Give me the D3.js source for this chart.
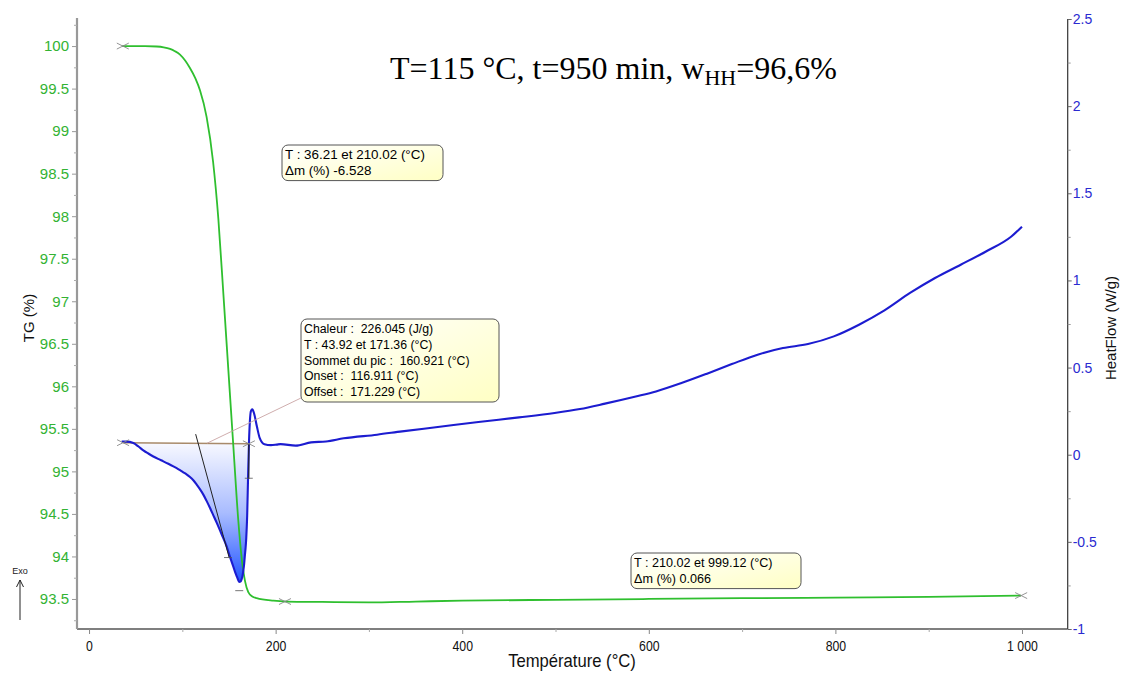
<!DOCTYPE html>
<html><head><meta charset="utf-8">
<script src="https://cdn.jsdelivr.net/npm/d3@7"></script>
<style>
html,body{margin:0;padding:0;background:#fff;}
svg{display:block;}
</style></head>
<body>
<svg id="chart" width="1123" height="673"></svg>
<script>
// ---------- DATA ----------
const tgTemp = [35.6,60,72.5,80,86.8,92,97.5,103,108,114,119,126,133,138.6,144,149.3,154.6,160,163.6,167.2,170.7,175,179.7,197.5,212,250,300,350,400,500,600,700,800,900,999];
const tgValues = [100,100,99.995,99.985,99.966,99.94,99.90,99.83,99.745,99.62,99.478,99.168,98.637,97.97,97.085,96.196,95.31,94.42,93.98,93.71,93.58,93.53,93.51,93.48,93.47,93.465,93.46,93.47,93.48,93.49,93.50,93.51,93.515,93.525,93.54];

const hfTemp = [35,40,47.5,53,58.2,63.5,68.9,74,79.6,85,90.4,96,101,104.5,108.2,112,115.4,119,122.5,126,129.7,133,136.8,142,147.5,151,154.5,157,158.5,160,161,162.3,163.5,164.5,165.5,166.3,167,167.8,168.5,169.5,170.5,171.5,172.5,173.5,175,177,180,183,188,195,201,205.3,221.5,238,254,273,308.7,335.5,373.8,417.4,460.9,499,526.2,553,586,607.7,635,662.4,689,716.6,743.8,770.6,798.3,825.3,852.6,880,906.8,934.3,961.4,988.6,1000];
const hfValues = [0.075,0.075,0.067,0.047,0.025,0.007,-0.010,-0.024,-0.038,-0.052,-0.067,-0.084,-0.101,-0.113,-0.128,-0.148,-0.172,-0.199,-0.229,-0.265,-0.306,-0.345,-0.39,-0.455,-0.526,-0.585,-0.64,-0.68,-0.70,-0.72,-0.73,-0.728,-0.715,-0.695,-0.66,-0.625,-0.58,-0.535,-0.48,-0.35,-0.12,0.08,0.2,0.25,0.26,0.235,0.16,0.095,0.06,0.055,0.058,0.061,0.052,0.071,0.076,0.094,0.115,0.134,0.159,0.188,0.214,0.239,0.262,0.293,0.334,0.363,0.411,0.465,0.52,0.574,0.612,0.635,0.679,0.746,0.828,0.928,1.014,1.09,1.166,1.252,1.308];

// peak integration baseline
const baselineTemp = [36.5, 171.36];
const baselineHF = [0.069, 0.063];
// onset tangent
const tangentTemp = [114.3, 150.3];
const tangentHF = [0.118, -0.592];
// mass-loss markers
const tgMarkTemp = [36.21, 210.02, 999.12];
const tgMarkVal = [100, 93.47, 93.54];

const xTickValues = [0,200,400,600,800,1000];
const xTickLabels = ["0","200","400","600","800","1 000"];
const xMinorTicks = [100,300,500,700,900];
const leftTickValues = [93.5,94,94.5,95,95.5,96,96.5,97,97.5,98,98.5,99,99.5,100];
const leftTickLabels = ["93.5","94","94.5","95","95.5","96","96.5","97","97.5","98","98.5","99","99.5","100"];
const leftMinorTicks = [93.25,93.75,94.25,94.75,95.25,95.75,96.25,96.75,97.25,97.75,98.25,98.75,99.25,99.75,100.25];
const rightTickValues = [-1,-0.5,0,0.5,1,1.5,2,2.5];
const rightTickLabels = ["-1","-0.5","0","0.5","1","1.5","2","2.5"];
const rightMinorTicks = [-0.75,-0.25,0.25,0.75,1.25,1.75,2.25];

const titleParts = ["T=115 °C, t=950 min, w", "HH", "=96,6%"];
const box1Lines = ["T : 36.21 et 210.02 (°C)", "Δm (%) -6.528"];
const box2Lines = ["Chaleur :  226.045 (J/g)", "T : 43.92 et 171.36 (°C)", "Sommet du pic :  160.921 (°C)", "Onset :  116.911 (°C)", "Offset :  171.229 (°C)"];
const box3Lines = ["T : 210.02 et 999.12 (°C)", "Δm (%) 0.066"];

// ---------- LAYOUT ----------
const L = 77, R = 1067.7, T = 18, B = 629;
const svg = d3.select("#chart");
const x = d3.scaleLinear().domain([-12.9, 1049]).range([L, R]);
const yL = d3.scaleLinear().domain([93.147, 100.33]).range([B, T]);
const yR = d3.scaleLinear().domain([-1, 2.5]).range([B, 19]);

const GREEN = "#2fbf2f", TICKGREEN = "#33b333", BLUE = "#1c1cd0", LBLUE = "#2a2ad0";

const defs = svg.append("defs");
const grad = defs.append("linearGradient").attr("id","peakGrad")
  .attr("gradientUnits","userSpaceOnUse").attr("x1",0).attr("x2",0)
  .attr("y1", yR(0.066)).attr("y2", yR(-0.73));
grad.append("stop").attr("offset","0").attr("stop-color","#f7f8ff");
grad.append("stop").attr("offset","0.5").attr("stop-color","#a9bcff");
grad.append("stop").attr("offset","1").attr("stop-color","#2456ff");
const bgrad = defs.append("linearGradient").attr("id","boxGrad")
  .attr("x1","0").attr("y1","0").attr("x2","1").attr("y2","1");
bgrad.append("stop").attr("offset","0").attr("stop-color","#ffffff");
bgrad.append("stop").attr("offset","1").attr("stop-color","#ffffc4");

// ---------- AXES ----------
const fontA = "Arial, 'Liberation Sans', sans-serif";

// bottom
const gx = svg.append("g").attr("transform",`translate(0,${B})`)
  .call(d3.axisBottom(x).tickValues(xTickValues).tickFormat((d,i)=>xTickLabels[i]).tickSize(5).tickSizeOuter(0).tickPadding(6));
gx.select(".domain").attr("stroke","#555").attr("stroke-width",1.5).attr("d",`M${L},0H${R}`);
gx.selectAll(".tick line").attr("stroke","#888");
gx.selectAll(".tick text").attr("fill","#111").style("font-family",fontA).style("font-size","15px")
  .attr("transform","scale(0.82,1)");
const gxm = svg.append("g").attr("transform",`translate(0,${B})`)
  .call(d3.axisBottom(x).tickValues(xMinorTicks).tickFormat("").tickSize(3).tickSizeOuter(0));
gxm.select(".domain").remove();
gxm.selectAll(".tick line").attr("stroke","#aaa");

// left
const gl = svg.append("g").attr("transform",`translate(${L},0)`)
  .call(d3.axisLeft(yL).tickValues(leftTickValues).tickFormat((d,i)=>leftTickLabels[i]).tickSize(5).tickSizeOuter(0).tickPadding(3));
gl.select(".domain").attr("stroke","#999").attr("stroke-width",2.2).attr("d",`M0,${T}V${B}`);
gl.selectAll(".tick line").attr("stroke","#999");
gl.selectAll(".tick text").attr("fill",TICKGREEN).style("font-family",fontA).style("font-size","15px");
const glm = svg.append("g").attr("transform",`translate(${L},0)`)
  .call(d3.axisLeft(yL).tickValues(leftMinorTicks).tickFormat("").tickSize(3).tickSizeOuter(0));
glm.select(".domain").remove();
glm.selectAll(".tick line").attr("stroke","#aaa");

// right
const gr = svg.append("g").attr("transform",`translate(${R},0)`)
  .call(d3.axisRight(yR).tickValues(rightTickValues).tickFormat((d,i)=>rightTickLabels[i]).tickSize(4).tickSizeOuter(0).tickPadding(1));
gr.select(".domain").attr("stroke","#333").attr("stroke-width",1.2).attr("d",`M0,19V${B}`);
gr.selectAll(".tick line").attr("stroke","#666");
gr.selectAll(".tick text").attr("fill",LBLUE).style("font-family",fontA).style("font-size","14px");
const grm = svg.append("g").attr("transform",`translate(${R},0)`)
  .call(d3.axisRight(yR).tickValues(rightMinorTicks).tickFormat("").tickSize(3).tickSizeOuter(0));
grm.select(".domain").remove();
grm.selectAll(".tick line").attr("stroke","#999");

// axis titles
svg.append("g").attr("transform",`translate(572,667)`)
  .append("text").attr("text-anchor","middle").attr("transform","scale(0.9,1)")
  .style("font-family",fontA).style("font-size","18.5px").attr("fill","#111").text("Température (°C)");
svg.append("text").attr("transform","translate(34,318) rotate(-90)").attr("text-anchor","middle")
  .style("font-family",fontA).style("font-size","15px").attr("fill","#111").text("TG (%)");
svg.append("text").attr("transform","translate(1116,328) rotate(-90)").attr("text-anchor","middle")
  .style("font-family",fontA).style("font-size","15px").attr("fill","#111").text("HeatFlow (W/g)");

// Exo arrow
svg.append("text").attr("x",20).attr("y",574).attr("text-anchor","middle")
  .style("font-family",fontA).style("font-size","9px").attr("fill","#222").text("Exo");
svg.append("path").attr("d","M20,620V580M16.5,587L20,580L23.5,587").attr("fill","none").attr("stroke","#222").attr("stroke-width",1);

// ---------- PEAK AREA ----------
const hfPts = hfTemp.map((t,i)=>[t,hfValues[i]]);
const blAt = t => baselineHF[0] + (baselineHF[1]-baselineHF[0])*(t-baselineTemp[0])/(baselineTemp[1]-baselineTemp[0]);
const peakPts = [[baselineTemp[0], baselineHF[0]]].concat(hfPts.filter(p=>p[0]>baselineTemp[0] && p[0]<baselineTemp[1]))
  .concat([[baselineTemp[1], baselineHF[1]]]);
svg.append("path").datum(peakPts)
  .attr("d", d3.area().x(d=>x(d[0])).y0(d=>yR(Math.max(blAt(d[0]), d[1]))).y1(d=>yR(Math.min(d[1], blAt(d[0])))).curve(d3.curveMonotoneX))
  .attr("fill","url(#peakGrad)");

// baseline
svg.append("line").attr("x1",x(baselineTemp[0])).attr("x2",x(baselineTemp[1]))
  .attr("y1",yR(baselineHF[0])).attr("y2",yR(baselineHF[1]))
  .attr("stroke","#a88a6a").attr("stroke-width",1.6);

// ---------- CURVES ----------
svg.append("path").datum(tgTemp.map((t,i)=>[t,tgValues[i]]))
  .attr("d", d3.line().x(d=>x(d[0])).y(d=>yL(d[1])).curve(d3.curveMonotoneX))
  .attr("fill","none").attr("stroke",GREEN).attr("stroke-width",1.8);

svg.append("path").datum(hfPts)
  .attr("d", d3.line().x(d=>x(d[0])).y(d=>yR(d[1])).curve(d3.curveMonotoneX))
  .attr("fill","none").attr("stroke",BLUE).attr("stroke-width",2.1);

// onset tangent
svg.append("line").attr("x1",x(tangentTemp[0])).attr("y1",yR(tangentHF[0]))
  .attr("x2",x(tangentTemp[1])).attr("y2",yR(tangentHF[1])).attr("stroke","#222").attr("stroke-width",1);
// offset segment
svg.append("line").attr("x1",x(171.229)).attr("x2",x(171.229)).attr("y1",yR(0.063)).attr("y2",yR(-0.14))
  .attr("stroke","#222").attr("stroke-width",1.1);
// small markers
[[171.229,-0.135],[149,-0.59],[161,-0.78]].forEach(p=>{
  svg.append("line").attr("x1",x(p[0])-4).attr("x2",x(p[0])+4).attr("y1",yR(p[1])).attr("y2",yR(p[1])).attr("stroke","#555").attr("stroke-width",0.8);
});

// crosses
function cross(cx, cy){
  svg.append("path").attr("d",`M${cx-6},${cy-3}L${cx+6},${cy+3}M${cx-6},${cy+3}L${cx+6},${cy-3}`)
    .attr("stroke","#888").attr("stroke-width",0.9).attr("fill","none");
}
tgMarkTemp.forEach((t,i)=>cross(x(t), yL(tgMarkVal[i])));
baselineTemp.forEach((t,i)=>cross(x(t), yR(baselineHF[i])));

// ---------- ANNOTATION BOXES ----------
// leader line from heat box
svg.append("line").attr("x1",301).attr("y1",398).attr("x2",x(126.5)).attr("y2",yR(0.066))
  .attr("stroke","#c9a4a4").attr("stroke-width",0.9);

function box(bx, by, w, lines, fs){
  const lh = 15.8;
  const h = lines.length*lh + 4;
  svg.append("rect").attr("x",bx).attr("y",by).attr("width",w).attr("height",h)
    .attr("rx",6).attr("ry",6).attr("fill","url(#boxGrad)").attr("stroke","#555").attr("stroke-width",1);
  lines.forEach((s,i)=>{
    svg.append("text").attr("x",bx+3).attr("y",by+14+i*lh)
      .style("font-family",fontA).style("font-size",fs+"px").style("white-space","pre").attr("xml:space","preserve")
      .attr("fill","#000").text(s);
  });
}
box(282, 145, 161, box1Lines, 13.4);
box(301, 319, 198, box2Lines, 12.3);
box(631, 553, 170, box3Lines, 12.6);

// ---------- TITLE ----------
const title = svg.append("text").attr("x",390).attr("y",79)
  .style("font-family","'Liberation Serif','Times New Roman',serif").style("font-size","32px").attr("fill","#000");
title.append("tspan").text(titleParts[0]);
title.append("tspan").attr("dy",6).style("font-size","22px").text(titleParts[1]);
title.append("tspan").attr("dy",-6).text(titleParts[2]);
</script>
</body></html>
